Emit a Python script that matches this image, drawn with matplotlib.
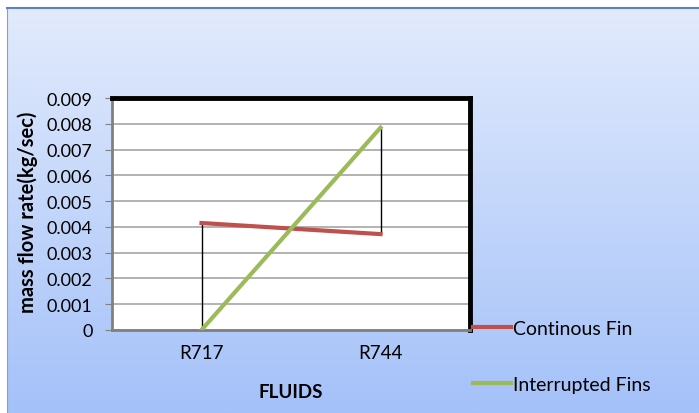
import matplotlib.pyplot as plt
import numpy as np
from matplotlib.colors import LinearSegmentedColormap

fluids = ['R717', 'R744']
continous_fin = [0.00415, 0.00372]
interrupted_fins = [0.0, 0.00785]
yticks = [0, 0.001, 0.002, 0.003, 0.004, 0.005, 0.006, 0.007, 0.008, 0.009]
ytick_labels = ['0', '0.001', '0.002', '0.003', '0.004', '0.005', '0.006', '0.007', '0.008', '0.009']

plt.rcParams['font.family'] = ['Lato', 'DejaVu Sans']

fig = plt.figure(figsize=(6.99, 4.14), dpi=100)
fig.patch.set_facecolor('white')

# gradient chart-area background
bg = fig.add_axes([7 / 699, 0, 1 - 7 / 699, 1 - 9 / 414], zorder=0)
grad = np.linspace(0, 1, 256).reshape(-1, 1)
cmap = LinearSegmentedColormap.from_list('bg', ['#E2EBFC', '#A4C1F9'])
bg.imshow(grad, aspect='auto', cmap=cmap, extent=[0, 1, 0, 1], origin='upper')
bg.set_xlim(0, 1)
bg.set_ylim(0, 1)
bg.set_xticks([])
bg.set_yticks([])
for s in ['right', 'bottom']:
    bg.spines[s].set_visible(False)
bg.spines['top'].set_color('#5B82C6')
bg.spines['top'].set_linewidth(1.5)
bg.spines['left'].set_color('#8FA0B8')
bg.spines['left'].set_linestyle((0, (1, 1)))

# plot area
ax = fig.add_axes([112 / 699, 1 - 331 / 414, (470 - 112) / 699, (331 - 99) / 414], zorder=1)
ax.set_facecolor('white')
x = np.arange(len(fluids))

# high-low lines between the two series
ax.vlines(x, np.minimum(continous_fin, interrupted_fins), np.maximum(continous_fin, interrupted_fins),
          color='black', linewidth=1, zorder=2)
ax.plot(x, continous_fin, color='#C0504D', linewidth=3, label='Continous Fin', zorder=3)
ax.plot(x, interrupted_fins, color='#9BBB59', linewidth=3, label='Interrupted Fins', zorder=3)

ax.set_xlim(-0.5, 1.5)
ax.set_ylim(0, 0.009)
ax.set_yticks(yticks)
ax.set_yticklabels(ytick_labels)
ax.set_xticks(x)
ax.set_xticklabels(fluids)
ax.yaxis.grid(True, color='#A6A6A6', linewidth=1.2)
ax.set_axisbelow(True)
ax.tick_params(axis='y', length=5, color='#808080', labelsize=13, pad=9)
ax.tick_params(axis='x', length=0, labelsize=13.5, pad=10)

for s in ['top', 'right']:
    ax.spines[s].set_color('black')
    ax.spines[s].set_linewidth(3.5)
for s in ['left', 'bottom']:
    ax.spines[s].set_color('#808080')
    ax.spines[s].set_linewidth(2)

ax.set_ylabel('mass flow rate(kg/sec)', fontsize=14.5, fontweight='bold')
ax.yaxis.set_label_coords(-0.208, 0.51)
ax.set_xlabel('FLUIDS', fontsize=13.5, fontweight='bold', labelpad=16)

leg = fig.legend(loc='upper left', bbox_to_anchor=(463 / 699, 1 - 311 / 414), frameon=False,
                 fontsize=14, handlelength=1.95, handletextpad=0.1, labelspacing=2.0,
                 borderpad=0)

fig.savefig('out.png', dpi=100, facecolor=fig.get_facecolor())
